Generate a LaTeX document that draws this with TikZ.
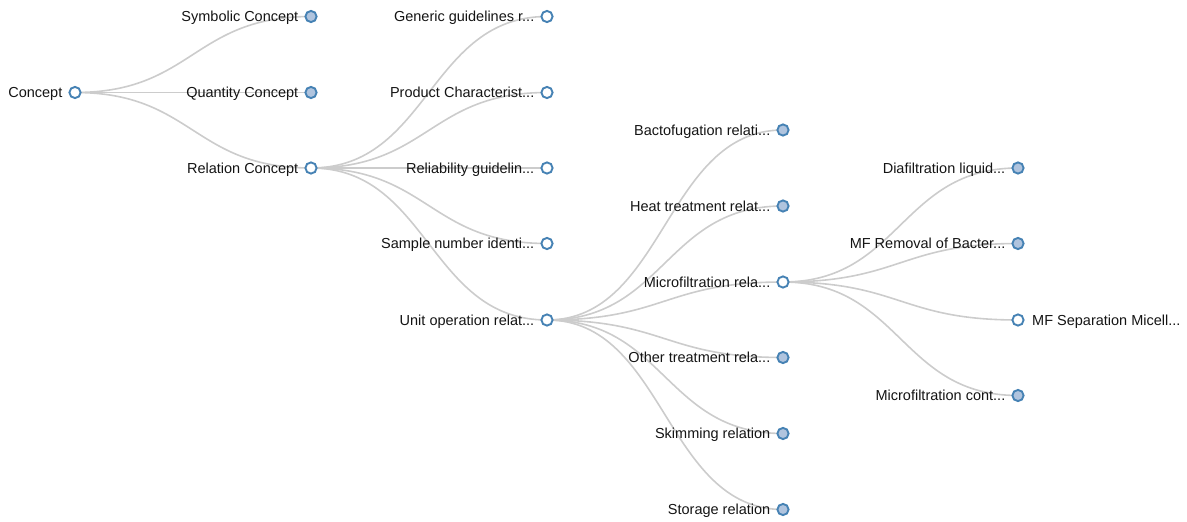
\documentclass[tikz,border=0pt]{standalone}
\usepackage{fontspec}
\setmainfont{Liberation Sans}
\usetikzlibrary{calc}
\definecolor{linkgray}{HTML}{CCCCCC}
\definecolor{nodestroke}{HTML}{4682B4}
\definecolor{nodefill}{HTML}{B0C4DE}
\definecolor{labeltext}{HTML}{141414}
\tikzset{
  treeline/.style={draw=linkgray, line width=1.6pt},
  opennode/.style={circle, draw=nodestroke, fill=white, line width=1.9pt, minimum size=11.2pt, inner sep=0pt},
  closednode/.style={opennode, fill=nodefill},
  lblleft/.style={anchor=base east, inner sep=0pt, text=labeltext, font=\fontsize{14.5}{16}\selectfont},
  lblright/.style={anchor=base west, inner sep=0pt, text=labeltext, font=\fontsize{14.5}{16}\selectfont},
}
% horizontal tree link: cubic curve with both control points at the mid x
\newcommand{\treelink}[2]{%
  \draw[treeline] let \p1=(#1.center), \p2=(#2.center) in
    (\p1) .. controls ({0.5*\x1+0.5*\x2},\y1) and ({0.5*\x1+0.5*\x2},\y2) .. (\p2);}
% node with its label on the left
\newcommand{\tnode}[5]{%
  \node[#1] (#2) at (#3,#4) {};
  \node[lblleft] (#2-l) at (#3-12.5,#4+5) {#5};}
\begin{document}
\begin{tikzpicture}[x=1pt, y=-1pt]
\useasboundingbox (0,0) rectangle (1187,522);
% anchors of the tree nodes (circles drawn afterwards)
\coordinate (concept) at (75,92.5);
\coordinate (symbolic) at (311,16.5);
\coordinate (quantity) at (311,92.5);
\coordinate (relation) at (311,168);
\coordinate (generic) at (547,16.5);
\coordinate (product) at (547,92.5);
\coordinate (reliab) at (547,168);
\coordinate (sample) at (547,243.5);
\coordinate (unitop) at (547,320);
\coordinate (bacto) at (783,130);
\coordinate (heat) at (783,206);
\coordinate (micro) at (783,282);
\coordinate (other) at (783,357.5);
\coordinate (skim) at (783,433.5);
\coordinate (storage) at (783,509.5);
\coordinate (diaf) at (1018,168);
\coordinate (mfrem) at (1018,243.5);
\coordinate (mfsep) at (1018,320);
\coordinate (mfcont) at (1018,395.5);
% links
\treelink{concept}{symbolic}
\treelink{concept}{quantity}
\treelink{concept}{relation}
\treelink{relation}{generic}
\treelink{relation}{product}
\treelink{relation}{reliab}
\treelink{relation}{sample}
\treelink{relation}{unitop}
\treelink{unitop}{bacto}
\treelink{unitop}{heat}
\treelink{unitop}{micro}
\treelink{unitop}{other}
\treelink{unitop}{skim}
\treelink{unitop}{storage}
\treelink{micro}{diaf}
\treelink{micro}{mfrem}
\treelink{micro}{mfsep}
\treelink{micro}{mfcont}
% nodes and labels
\tnode{opennode}{n-concept}{75}{92.5}{Concept}
\tnode{closednode}{n-symbolic}{311}{16.5}{Symbolic Concept}
\tnode{closednode}{n-quantity}{311}{92.5}{Quantity Concept}
\tnode{opennode}{n-relation}{311}{168}{Relation Concept}
\tnode{opennode}{n-generic}{547}{16.5}{Generic guidelines r...}
\tnode{opennode}{n-product}{547}{92.5}{Product Characterist...}
\tnode{opennode}{n-reliab}{547}{168}{Reliability guidelin...}
\tnode{opennode}{n-sample}{547}{243.5}{Sample number identi...}
\tnode{opennode}{n-unitop}{547}{320}{Unit operation relat...}
\tnode{closednode}{n-bacto}{783}{130}{Bactofugation relati...}
\tnode{closednode}{n-heat}{783}{206}{Heat treatment relat...}
\tnode{opennode}{n-micro}{783}{282}{Microfiltration rela...}
\tnode{closednode}{n-other}{783}{357.5}{Other treatment rela...}
\tnode{closednode}{n-skim}{783}{433.5}{Skimming relation}
\tnode{closednode}{n-storage}{783}{509.5}{Storage relation}
\tnode{closednode}{n-diaf}{1018}{168}{Diafiltration liquid...}
\tnode{closednode}{n-mfrem}{1018}{243.5}{MF Removal of Bacter...}
\node[opennode] (n-mfsep) at (1018,320) {};
\node[lblright] (n-mfsep-l) at (1032,325) {MF Separation Micell...};
\tnode{closednode}{n-mfcont}{1018}{395.5}{Microfiltration cont...}
\end{tikzpicture}
\end{document}
